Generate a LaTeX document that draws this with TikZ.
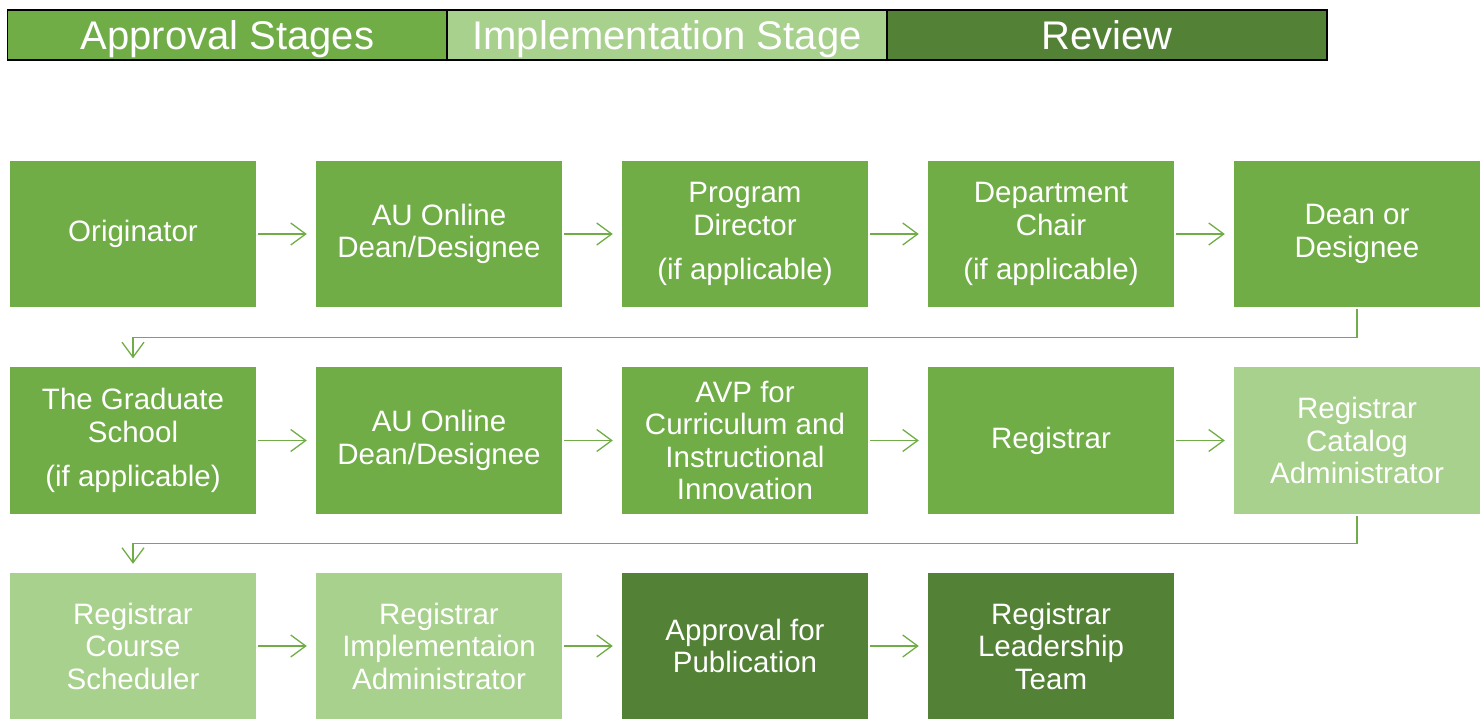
\documentclass[tikz,border=0pt]{standalone}
\usepackage{fontspec}
\setmainfont{Liberation Sans}
\usetikzlibrary{arrows.meta}

\definecolor{midgreen}{HTML}{70AD47}
\definecolor{lightgreen}{HTML}{A9D18E}
\definecolor{darkgreen}{HTML}{538135}

\begin{document}
\begin{tikzpicture}[x=1pt, y=-1pt,
    every node/.style = {shape=rectangle, inner sep=0pt, text=white, align=center},
    stagebox/.style = {fill=#1, minimum width=246pt, minimum height=146pt,
                       font=\fontsize{29.5}{32.5}\selectfont},
    headcell/.style = {fill=#1, draw=black, line width=1.5pt, minimum width=440pt,
                       minimum height=50pt, text height=33pt, text depth=4pt,
                       font=\fontsize{40}{42}\selectfont},
    flow/.style = {draw=midgreen, line width=1.3pt,
                   -{Straight Barb[length=15pt, width=22pt, line width=1.3pt]},
                   shorten <=2pt, shorten >=9pt}]
\useasboundingbox (0,0) rectangle (1484,719);

% header bar
\node[headcell=midgreen] (hApproval) at (227.5,35) {Approval Stages};
\node[headcell=lightgreen] (hImpl) at (667,35) {Implementation Stage};
\node[headcell=darkgreen] (hReview) at (1107,35) {Review};

% first row
\node[stagebox=midgreen] (orig) at (133,234) {Originator};
\node[stagebox=midgreen] (auDeanA) at (439,234) {AU Online\\Dean/Designee};
\node[stagebox=midgreen] (progDir) at (745,234) {Program\\Director\\[12pt](if applicable)};
\node[stagebox=midgreen] (deptChair) at (1051,234) {Department\\Chair\\[12pt](if applicable)};
\node[stagebox=midgreen] (dean) at (1357,234) {Dean or\\Designee};

% second row
\node[stagebox=midgreen] (gradSchool) at (133,440.5) {The Graduate\\School\\[12pt](if applicable)};
\node[stagebox=midgreen] (auDeanB) at (439,440.5) {AU Online\\Dean/Designee};
\node[stagebox=midgreen] (avp) at (745,440.5) {AVP for\\Curriculum and\\Instructional\\Innovation};
\node[stagebox=midgreen] (registrar) at (1051,440.5) {Registrar};
\node[stagebox=lightgreen] (catalog) at (1357,440.5) {Registrar\\Catalog\\Administrator};

% third row
\node[stagebox=lightgreen] (scheduler) at (133,646) {Registrar\\Course\\Scheduler};
\node[stagebox=lightgreen] (implAdmin) at (439,646) {Registrar\\Implementaion\\Administrator};
\node[stagebox=darkgreen] (pubApproval) at (745,646) {Approval for\\Publication};
\node[stagebox=darkgreen] (leadTeam) at (1051,646) {Registrar\\Leadership\\Team};

% arrows along the rows
\draw[flow] (orig) -- (auDeanA);
\draw[flow] (auDeanA) -- (progDir);
\draw[flow] (progDir) -- (deptChair);
\draw[flow] (deptChair) -- (dean);
\draw[flow] (gradSchool) -- (auDeanB);
\draw[flow] (auDeanB) -- (avp);
\draw[flow] (avp) -- (registrar);
\draw[flow] (registrar) -- (catalog);
\draw[flow] (scheduler) -- (implAdmin);
\draw[flow] (implAdmin) -- (pubApproval);
\draw[flow] (pubApproval) -- (leadTeam);

% wrap-around to the next row
\draw[flow] (dean.south) -- ++(0,30) -| (gradSchool.north);
\draw[flow] (catalog.south) -- ++(0,30) -| (scheduler.north);
\end{tikzpicture}
\end{document}
